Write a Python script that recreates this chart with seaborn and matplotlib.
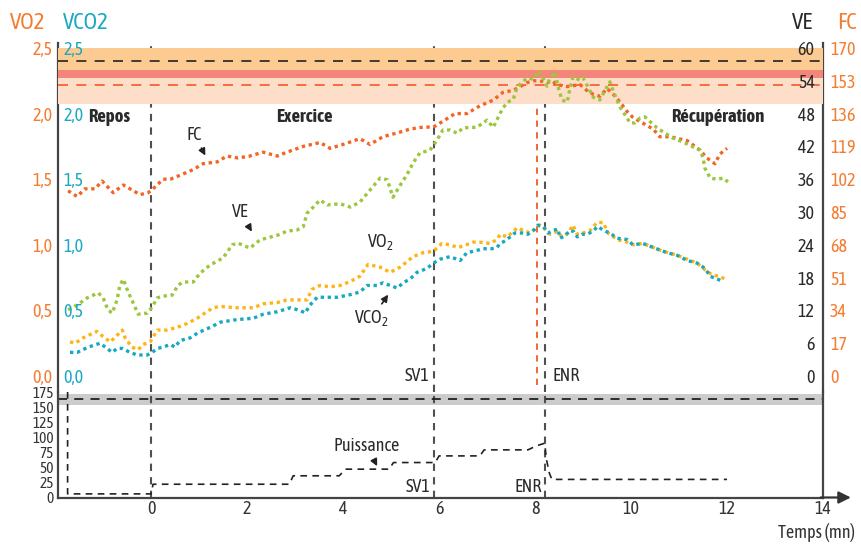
import matplotlib
matplotlib.use("Agg")
import matplotlib.pyplot as plt
import seaborn as sns

# temps (mn) et valeurs
fc_t = [-1.73, -1.54, -1.38, -1.17, -1.02, -0.79, -0.58, -0.44, -0.23, -0.06,
        0.04, 0.25, 0.40, 0.60, 0.88, 1.08, 1.38, 1.58, 1.81, 2.06,
        2.33, 2.63, 2.83, 3.17, 3.52, 3.73, 4.00, 4.35, 4.56, 4.83,
        5.13, 5.40, 5.67, 5.88, 6.08, 6.33, 6.58, 6.85, 7.13, 7.33,
        7.54, 7.69, 7.83, 7.96, 8.10, 8.25, 8.35, 8.46, 8.67, 8.94,
        9.08, 9.21, 9.35, 9.50, 9.63, 9.77, 9.92, 10.04, 10.25, 10.46,
        10.60, 10.81, 11.17, 11.44, 11.58, 11.75, 11.85, 12.00]
fc = [96, 93, 97, 97, 101, 95, 99, 97, 94, 95,
      97, 102, 102, 104, 107, 110, 111, 114, 113, 114,
      116, 114, 116, 119, 121, 118, 120, 123, 120, 124,
      126, 128, 129, 129, 132, 136, 136, 140, 143, 147,
      148, 150, 152, 153, 153, 152, 153, 151, 150, 151,
      148, 146, 145, 149, 146, 142, 137, 134, 131, 128,
      124, 124, 122, 117, 113, 110, 115, 118]

ve_t = [-1.73, -1.54, -1.33, -1.10, -1.00, -0.90, -0.81, -0.71, -0.65, -0.58,
        -0.48, -0.38, -0.27, -0.08, 0.02, 0.13, 0.25, 0.44, 0.56, 0.67,
        0.88, 1.02, 1.23, 1.50, 1.69, 1.81, 2.06, 2.27, 2.48, 2.65,
        2.83, 3.04, 3.17, 3.25, 3.38, 3.52, 3.67, 3.94, 4.15, 4.35,
        4.56, 4.77, 4.92, 5.04, 5.19, 5.33, 5.46, 5.60, 5.81, 5.96,
        6.08, 6.23, 6.38, 6.50, 6.79, 7.00, 7.13, 7.31, 7.42, 7.54,
        7.63, 7.83, 7.96, 8.08, 8.17, 8.25, 8.31, 8.42, 8.48, 8.56,
        8.67, 8.73, 8.79, 8.94, 9.00, 9.10, 9.21, 9.35, 9.46, 9.56,
        9.63, 9.77, 9.88, 9.98, 10.08, 10.19, 10.29, 10.40, 10.54, 10.71,
        10.88, 11.08, 11.29, 11.44, 11.50, 11.54, 11.65, 11.79, 11.92, 12.02]
ve = [12.1, 13.0, 14.3, 15.2, 14.3, 12.1, 11.5, 13.9, 16.6, 17.7,
      15.4, 13.5, 11.3, 11.5, 12.6, 14.3, 14.6, 14.8, 16.6, 17.2,
      17.2, 18.8, 20.3, 21.6, 24.0, 24.3, 23.4, 24.9, 25.4, 25.8,
      26.5, 26.7, 27.3, 29.8, 30.9, 32.2, 31.3, 31.5, 30.9, 31.8,
      34.0, 36.2, 35.9, 32.7, 34.9, 36.8, 39.0, 40.8, 41.3, 43.2,
      45.0, 45.0, 44.4, 45.4, 45.5, 46.8, 45.5, 48.7, 50.1, 50.5,
      52.9, 54.5, 54.3, 55.8, 54.5, 53.0, 54.5, 55.6, 52.9, 50.5,
      50.1, 52.7, 54.7, 54.1, 54.5, 52.9, 51.0, 50.5, 52.3, 53.8,
      52.1, 49.2, 47.7, 46.3, 46.3, 47.2, 47.4, 46.5, 45.4, 44.4,
      43.5, 42.8, 41.9, 41.3, 39.9, 38.0, 36.2, 36.0, 36.2, 35.5]

vo2_t = [-1.69, -1.58, -1.42, -1.13, -1.00, -0.85, -0.71, -0.60, -0.54, -0.40,
         -0.27, -0.17, -0.02, 0.13, 0.33, 0.54, 0.75, 0.96, 1.08, 1.29,
         1.44, 1.79, 2.13, 2.33, 2.63, 2.83, 3.10, 3.25, 3.35, 3.52,
         3.73, 3.94, 4.15, 4.35, 4.52, 4.77, 4.98, 5.19, 5.46, 5.67,
         5.88, 6.06, 6.23, 6.38, 6.50, 6.71, 6.85, 7.06, 7.21, 7.27,
         7.42, 7.54, 7.63, 7.75, 7.90, 8.04, 8.10, 8.21, 8.31, 8.46,
         8.56, 8.69, 8.79, 8.88, 9.00, 9.15, 9.29, 9.42, 9.52, 9.71,
         9.92, 10.04, 10.25, 10.46, 10.67, 10.96, 11.17, 11.38, 11.54, 11.69,
         11.85, 12.00]
vo2 = [0.26, 0.25, 0.29, 0.34, 0.30, 0.26, 0.31, 0.35, 0.29, 0.22,
       0.20, 0.24, 0.26, 0.35, 0.35, 0.37, 0.40, 0.44, 0.47, 0.52,
       0.53, 0.52, 0.52, 0.55, 0.56, 0.58, 0.58, 0.58, 0.66, 0.69,
       0.68, 0.69, 0.72, 0.76, 0.85, 0.83, 0.79, 0.83, 0.91, 0.94,
       0.95, 1.01, 1.00, 0.98, 0.99, 1.02, 1.02, 1.01, 1.04, 1.08,
       1.06, 1.10, 1.13, 1.11, 1.09, 1.13, 1.15, 1.12, 1.08, 1.10,
       1.06, 1.09, 1.15, 1.08, 1.09, 1.11, 1.17, 1.17, 1.09, 1.04,
       1.02, 1.00, 1.01, 0.98, 0.95, 0.92, 0.89, 0.86, 0.81, 0.77,
       0.76, 0.73]

vco2_t = [-1.69, -1.54, -1.31, -1.06, -0.92, -0.81, -0.71, -0.60, -0.44, -0.29,
          -0.08, 0.02, 0.13, 0.25, 0.40, 0.50, 0.60, 0.81, 0.98, 1.23,
          1.44, 1.79, 2.13, 2.33, 2.63, 2.90, 3.10, 3.21, 3.31, 3.46,
          3.58, 3.88, 4.15, 4.35, 4.50, 4.71, 4.83, 5.13, 5.25, 5.40,
          5.54, 5.75, 5.88, 6.02, 6.23, 6.44, 6.58, 6.71, 6.92, 7.10,
          7.21, 7.27, 7.38, 7.58, 7.73, 7.85, 8.00, 8.06, 8.17, 8.27,
          8.38, 8.48, 8.52, 8.63, 8.73, 8.81, 8.88, 8.98, 9.08, 9.19,
          9.31, 9.42, 9.56, 9.71, 9.92, 10.04, 10.25, 10.46, 10.75, 10.96,
          11.17, 11.38, 11.54, 11.65, 11.79, 11.92]
vco2 = [0.18, 0.18, 0.22, 0.25, 0.21, 0.18, 0.21, 0.21, 0.18, 0.16,
        0.16, 0.18, 0.21, 0.22, 0.24, 0.22, 0.27, 0.29, 0.33, 0.37,
        0.41, 0.43, 0.44, 0.47, 0.49, 0.52, 0.50, 0.48, 0.54, 0.60,
        0.60, 0.60, 0.62, 0.64, 0.69, 0.69, 0.71, 0.67, 0.71, 0.74,
        0.79, 0.82, 0.86, 0.89, 0.91, 0.88, 0.94, 0.95, 0.97, 0.97,
        0.98, 1.01, 1.03, 1.09, 1.09, 1.08, 1.12, 1.15, 1.14, 1.09,
        1.11, 1.12, 1.05, 1.07, 1.11, 1.10, 1.06, 1.08, 1.08, 1.10,
        1.14, 1.11, 1.09, 1.05, 1.04, 1.00, 1.01, 0.98, 0.94, 0.92,
        0.88, 0.86, 0.82, 0.76, 0.74, 0.72]

# puissance (W)
p_t = [-1.74, -1.74, 0.0, 0.04, 2.88, 2.96, 3.92, 4.05, 4.96, 5.05, 5.92,
       6.0, 6.85, 6.94, 7.85, 8.04, 8.2, 8.24, 8.3, 8.35, 12.0]
puissance = [175, 6, 6, 22, 22, 36, 36, 47, 47, 58, 58,
             69, 69, 79, 79, 86, 90, 62, 40, 30, 30]

# zones et seuils (en unites FC)
band_lo = [141, 154.4, 158.6]
band_hi = [154.4, 158.6, 170]
band_colors = ["#FDDEC8", "#F4857A", "#FCCB92"]
fc_max_line = 163
fc_seuil_line = 151

# temps des evenements
t_debut = 0.0
t_sv1 = 5.9
t_enr = 8.2
t_enr_fc = 8.05

vo2_ticks = [0, 0.5, 1.0, 1.5, 2.0, 2.5]
vo2_labels = ["0,0", "0,5", "1,0", "1,5", "2,0", "2,5"]
ve_ticks = [0, 6, 12, 18, 24, 30, 36, 42, 48, 54, 60]
fc_ticks = [0, 17, 34, 51, 68, 85, 102, 119, 136, 153, 170]
p_ticks = [0, 25, 50, 75, 100, 125, 150, 175]
t_ticks = [0, 2, 4, 6, 8, 10, 12, 14]

sns.set_theme(style="white")
plt.rcParams["font.family"] = ["Asap Condensed", "Liberation Sans Narrow", "DejaVu Sans"]
plt.rcParams["mathtext.default"] = "regular"

ORANGE = "#F47C30"
FC_COLOR = "#F26522"
VO2_COLOR = "#FDB515"
VCO2_COLOR = "#17A9C1"
VE_COLOR = "#9CC63E"
TEAL = "#1BA8C2"
DARK = "#2A2A2A"
AXIS = "#444444"

W, H = 862, 546
fig = plt.figure(figsize=(W / 100, H / 100), dpi=100)


def box(l, t, r, b):
    return [l / W, 1 - b / H, (r - l) / W, (b - t) / H]


ax = fig.add_axes(box(58, 43, 823, 392))
ax_p = fig.add_axes(box(58, 392, 823, 497.5), sharex=ax)
ax_fc = ax.twinx()
ax_ve = ax.twinx()
ax_c = ax.twinx()

ylim = (-0.122, 2.538)
ax.set_ylim(ylim)
ax_c.set_ylim(ylim)
ax_ve.set_ylim(ylim[0] * 24, ylim[1] * 24)
ax_fc.set_ylim(ylim[0] * 68, ylim[1] * 68)
ax.set_xlim(-1.94, 14.0)

# zones
for lo, hi, c in zip(band_lo, band_hi, band_colors):
    ax_fc.axhspan(lo, hi, color=c, lw=0, zorder=0)
ax_fc.axhline(fc_max_line, color="#222222", lw=1.2, ls=(0, (6, 5)), zorder=1)
ax_fc.axhline(fc_seuil_line, color="#F05A28", lw=1.2, ls=(0, (6, 5)), zorder=1)

dots = (0, (1, 1.1))
sns.lineplot(x=vo2_t, y=vo2, ax=ax, color=VO2_COLOR, lw=2.4, linestyle=dots,
             estimator=None, sort=False)
sns.lineplot(x=fc_t, y=fc, ax=ax_fc, color=FC_COLOR, lw=2.4, linestyle=dots,
             estimator=None, sort=False)
sns.lineplot(x=ve_t, y=ve, ax=ax_ve, color=VE_COLOR, lw=2.4, linestyle=dots,
             estimator=None, sort=False)
sns.lineplot(x=vco2_t, y=vco2, ax=ax_c, color=VCO2_COLOR, lw=2.4, linestyle=dots,
             estimator=None, sort=False)

# lignes verticales
vdash = (0, (3.5, 3))
for a in (ax, ax_p):
    for t in (t_debut, t_sv1, t_enr):
        a.axvline(t, color="#505050", lw=1.5, ls=vdash, zorder=1)
ax.axvline(t_enr_fc, ymin=0.02, ymax=0.97, color="#F05A28", lw=1.3, ls=vdash, zorder=1)

# puissance
ax_p.set_ylim(0, 175)
ax_p.axhspan(154, 171, color="#CCCCCC", lw=0, zorder=0)
ax_p.axhline(163, color="#222222", lw=1.3, ls=(0, (5, 4)), zorder=1)
sns.lineplot(x=p_t, y=puissance, ax=ax_p, color="#222222", lw=1.2,
             linestyle=(0, (4, 3.2)), estimator=None, sort=False)

# axes & ticks
for a in (ax, ax_fc, ax_ve, ax_c, ax_p):
    a.set_xlabel("")
    a.set_ylabel("")
    for s in a.spines.values():
        s.set_visible(False)
    a.tick_params(length=0)
    a.grid(False)

for side in ("left", "right"):
    ax.spines[side].set_visible(True)
    ax.spines[side].set_color(AXIS)
    ax.spines[side].set_linewidth(1.6)
for side in ("left", "right", "bottom"):
    ax_p.spines[side].set_visible(True)
    ax_p.spines[side].set_color(AXIS)
    ax_p.spines[side].set_linewidth(1.6)
ax.patch.set_alpha(0)
ax_p.patch.set_alpha(0)

ax.tick_params(axis="x", labelbottom=False)
for a in (ax_fc, ax_ve, ax_c):
    a.tick_params(axis="x", labelbottom=False, labeltop=False)

ax.set_yticks(vo2_ticks, vo2_labels)
ax.tick_params(axis="y", labelsize=13, labelcolor=ORANGE, pad=4)

ax_c.yaxis.tick_left()
ax_c.set_yticks(vo2_ticks, vo2_labels)
ax_c.tick_params(axis="y", labelsize=13, labelcolor=TEAL, pad=-4)
for lab in ax_c.get_yticklabels():
    lab.set_horizontalalignment("left")

ax_ve.set_yticks(ve_ticks, [str(v) for v in ve_ticks])
ax_ve.tick_params(axis="y", labelsize=13, labelcolor=DARK, pad=-6)
for lab in ax_ve.get_yticklabels():
    lab.set_horizontalalignment("right")

ax_fc.set_yticks(fc_ticks, [str(v) for v in fc_ticks])
ax_fc.tick_params(axis="y", labelsize=13, labelcolor=ORANGE, pad=5)

ax_p.set_yticks(p_ticks, [str(v) for v in p_ticks])
ax_p.tick_params(axis="y", labelsize=11, labelcolor="#333333", pad=3)
ax_p.set_xticks(t_ticks, [str(v) for v in t_ticks])
ax_p.tick_params(axis="x", labelsize=13, labelcolor="#333333", pad=2)

ax_p.annotate("", xy=(14.58, 0), xytext=(13.95, 0), xycoords="data",
              arrowprops=dict(arrowstyle="-|>", color="#333333", lw=1.6,
                              mutation_scale=18, shrinkA=0, shrinkB=0),
              annotation_clip=False)

# en-tetes des axes
fig.text(28 / W, 1 - 23 / H, "VO2", color=ORANGE, fontsize=16.5, ha="center", va="center")
fig.text(86 / W, 1 - 23 / H, "VCO2", color=TEAL, fontsize=16.5, ha="center", va="center")
fig.text(802 / W, 1 - 23 / H, "VE", color=DARK, fontsize=16.5, ha="center", va="center")
fig.text(847 / W, 1 - 23 / H, "FC", color=ORANGE, fontsize=16.5, ha="center", va="center")
fig.text(855 / W, 1 - 533 / H, "Temps (mn)", color="#333333", fontsize=13,
         ha="right", va="center")

# phases
ax.text(-1.31, 1.974, "Repos", fontsize=13.5, fontweight="bold", color=DARK, va="center")
ax.text(3.19, 1.974, "Exercice", fontsize=13.5, fontweight="bold", color=DARK,
        ha="center", va="center")
ax.text(12.79, 1.974, "Récupération", fontsize=13.5, fontweight="bold", color=DARK,
        ha="right", va="center")

arrow = dict(arrowstyle="-|>", color="#222222", lw=1.2, mutation_scale=10,
             shrinkA=1, shrinkB=0)
ax.annotate("FC", xy=(1.13, 1.68), xytext=(0.9, 1.84), fontsize=13, color=DARK,
            ha="center", va="center", arrowprops=arrow)
ax.annotate("VE", xy=(2.1, 1.10), xytext=(1.86, 1.25), fontsize=13, color=DARK,
            ha="center", va="center", arrowprops=arrow)
ax.text(4.77, 1.02, "VO$_2$", fontsize=13, color=DARK, ha="center", va="center")
ax.annotate("VCO$_2$", xy=(4.94, 0.62), xytext=(4.6, 0.44), fontsize=13, color=DARK,
            ha="center", va="center", arrowprops=arrow)
ax.text(5.81, 0.0, "SV1", fontsize=13, color=DARK, ha="right", va="center")
ax.text(8.37, 0.0, "ENR", fontsize=13, color=DARK, ha="left", va="center")

ax_p.text(5.31, 18, "SV1", fontsize=13, color=DARK, ha="left", va="center")
ax_p.text(8.15, 18, "ENR", fontsize=13, color=DARK, ha="right", va="center")
ax_p.annotate("Puissance", xy=(4.71, 52), xytext=(4.5, 85), fontsize=13, color=DARK,
              ha="center", va="center", arrowprops=arrow)

fig.savefig("out.png", dpi=100)
